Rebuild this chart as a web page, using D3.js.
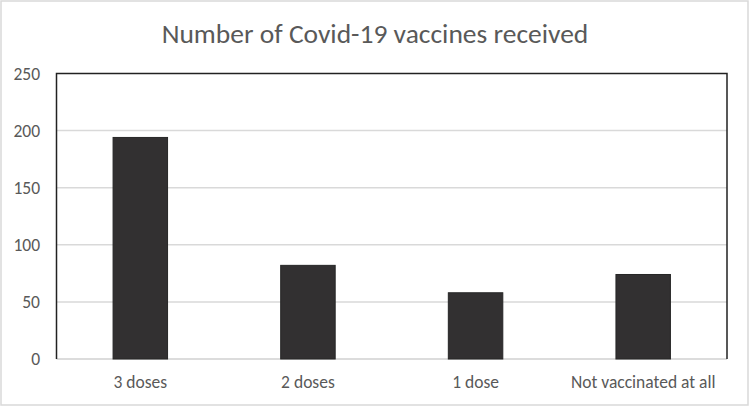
<!DOCTYPE html>
<html>
<head>
<meta charset="utf-8">
<script src="https://cdn.jsdelivr.net/npm/d3@7"></script>
<style>
  html, body { margin: 0; padding: 0; background: #fff; }
  svg { display: block; font-family: Carlito, Calibri, Lato, "Open Sans", sans-serif; }
</style>
</head>
<body>
<div id="chart"></div>
<script>
// data
const categories = ['3 doses', '2 doses', '1 dose', 'Not vaccinated at all'];
const counts = [194, 82, 58, 74];
const yTicks = [0, 50, 100, 150, 200, 250];
const title = 'Number of Covid-19 vaccines received';

const width = 750, height = 406;
const margin = { top: 73.5, right: 23, bottom: 47, left: 56.5 };

const svg = d3.select('#chart').append('svg')
  .attr('width', width)
  .attr('height', height)
  .attr('viewBox', [0, 0, width, height]);

// outer frame
svg.append('rect')
  .attr('x', 1).attr('y', 1)
  .attr('width', width - 3).attr('height', height - 2)
  .attr('fill', '#fff')
  .attr('stroke', '#d9d9d9')
  .attr('stroke-width', 1.5);

const x = d3.scaleBand()
  .domain(categories)
  .range([margin.left, width - margin.right])
  .paddingInner(0.675)
  .paddingOuter(0.3375);

const y = d3.scaleLinear()
  .domain([0, 250])
  .range([height - margin.bottom, margin.top]);

// gridlines
svg.append('g')
  .selectAll('line')
  .data(yTicks.filter(d => d > 0 && d < 250))
  .join('line')
  .attr('x1', margin.left).attr('x2', width - margin.right)
  .attr('y1', d => y(d)).attr('y2', d => y(d))
  .attr('stroke', '#d9d9d9')
  .attr('stroke-width', 1.5);

// bottom axis line
svg.append('line')
  .attr('x1', margin.left).attr('x2', width - margin.right)
  .attr('y1', y(0)).attr('y2', y(0))
  .attr('stroke', '#d0d0d0')
  .attr('stroke-width', 1.5);

// bars
svg.append('g')
  .selectAll('rect')
  .data(categories.map((c, i) => ({ c, v: counts[i] })))
  .join('rect')
  .attr('x', d => x(d.c))
  .attr('y', d => y(d.v))
  .attr('width', x.bandwidth())
  .attr('height', d => y(0) - y(d.v))
  .attr('fill', '#323031')
  .attr('stroke', '#262626')
  .attr('stroke-width', 1);

// plot frame (left, top, right)
svg.append('path')
  .attr('d', `M${margin.left},${y(0)}V${y(250)}H${width - margin.right}V${y(0)}`)
  .attr('fill', 'none')
  .attr('stroke', '#222')
  .attr('stroke-width', 1.5);

// y tick labels
svg.append('g')
  .selectAll('text')
  .data(yTicks)
  .join('text')
  .attr('x', 40)
  .attr('y', d => y(d))
  .attr('dy', '0.35em')
  .attr('text-anchor', 'end')
  .attr('font-size', 17.5)
  .attr('fill', '#595959')
  .text(d => d);

// x labels
svg.append('g')
  .selectAll('text')
  .data(categories)
  .join('text')
  .attr('x', d => x(d) + x.bandwidth() / 2)
  .attr('y', 388)
  .attr('text-anchor', 'middle')
  .attr('font-size', 17.5)
  .attr('fill', '#595959')
  .text(d => d);

// title
svg.append('text')
  .attr('x', 375)
  .attr('y', 43)
  .attr('text-anchor', 'middle')
  .attr('font-size', 27.5)
  .attr('fill', '#595959')
  .text(title);
</script>
</body>
</html>
